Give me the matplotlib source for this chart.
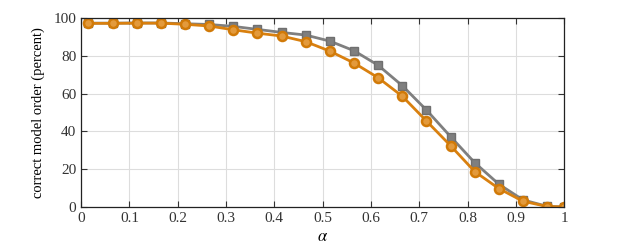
import matplotlib
matplotlib.use("Agg")
from matplotlib import pyplot as plt

alpha = [0.015, 0.065, 0.115, 0.165, 0.215, 0.265, 0.315, 0.365, 0.415, 0.465,
         0.515, 0.565, 0.615, 0.665, 0.715, 0.765, 0.815, 0.865, 0.915, 0.965, 1.0]
gray_vals = [97.3, 97.3, 97.4, 97.4, 97.0, 96.6, 95.6, 94.0, 92.4, 91.0,
             87.8, 82.7, 75.0, 64.2, 51.3, 37.2, 23.4, 12.0, 3.7, 0.3, 0.0]
orange_vals = [97.2, 97.2, 97.3, 97.3, 96.7, 95.8, 93.8, 92.0, 90.5, 87.5,
               82.5, 76.2, 68.4, 58.6, 45.5, 32.4, 18.7, 9.7, 3.0, 0.2, 0.0]
xticks = [0, 0.1, 0.2, 0.3, 0.4, 0.5, 0.6, 0.7, 0.8, 0.9, 1]
xticklabels = ["0", "0.1", "0.2", "0.3", "0.4", "0.5", "0.6", "0.7", "0.8", "0.9", "1"]
yticks = [0, 20, 40, 60, 80, 100]

plt.rcParams['font.family'] = ['Liberation Serif', 'DejaVu Serif']
plt.rcParams['mathtext.fontset'] = 'stix'

fig = plt.figure(figsize=(6.24, 2.44), dpi=100)
ax = fig.add_axes([0.13, 0.152, 0.774, 0.774])

ax.plot(alpha, gray_vals, color='#7f7f7f', lw=2, marker='s', ms=5.5,
        mfc='#7f7f7f', mec='#6f6f6f')
ax.plot(alpha, orange_vals, color='#d9800f', lw=2, marker='o', ms=6.5,
        mfc='#e39a3c', mec='#d17a08', mew=1.8)

ax.set_xlim(0, 1)
ax.set_ylim(0, 100)
ax.set_xticks(xticks)
ax.set_xticklabels(xticklabels)
ax.set_yticks(yticks)
ax.grid(True, color='#dddddd', lw=0.8)
ax.set_axisbelow(True)
ax.tick_params(direction='in', top=True, right=True, labelsize=11,
               colors='#333333', length=4)
for s in ax.spines.values():
    s.set_color('#222222')
    s.set_linewidth(0.9)
ax.set_xlabel(r'$\alpha$', fontsize=12, labelpad=3)
ax.set_ylabel('correct model order (percent)', fontsize=10.5, labelpad=6)

fig.savefig("out.png", dpi=100)
